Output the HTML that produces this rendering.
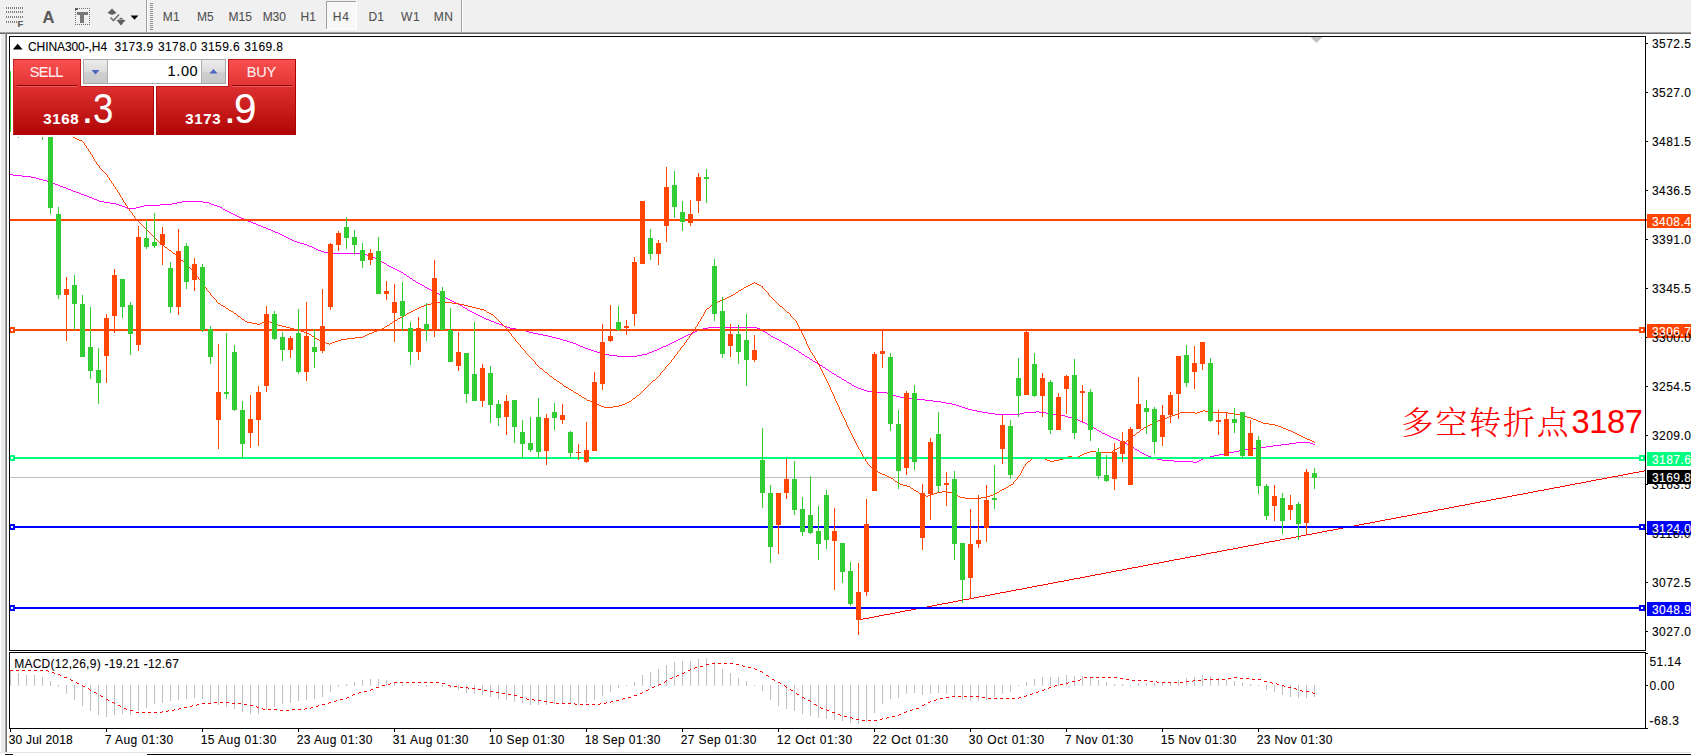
<!DOCTYPE html>
<html><head><meta charset="utf-8"><title>CHINA300-,H4</title>
<style>
html,body{margin:0;padding:0;background:#fff}
body{width:1691px;height:755px;overflow:hidden;position:relative;font-family:"Liberation Sans","Noto Sans CJK SC",sans-serif}
svg{position:absolute;left:0;top:0;display:block}
.t{position:absolute;white-space:pre;margin:0;padding:0;-webkit-text-stroke:0.1px currentColor}
#clip{position:absolute;left:0;top:0;width:1691px;height:755px;overflow:hidden}
</style></head><body><div id="clip">
<svg width="1691" height="755" viewBox="0 0 1691 755" shape-rendering="crispEdges">
<rect x="10" y="477" width="1635" height="1" fill="#c0c0c0"/>
<path d="M10 174.5h3M13 175.5h9M22 176.5h9M31 177.5h5M36 178.5h3M39 179.5h4M43 180.5h4M47 181.5h3M50 182.5h2M52 183.5h3M55 184.5h3M58 185.5h2M60 186.5h3M63 187.5h3M66 188.5h2M68 189.5h3M71 190.5h2M73 191.5h3M76 192.5h3M79 193.5h2M81 194.5h3M84 195.5h3M87 196.5h2M89 197.5h3M92 198.5h2M94 199.5h3M97 200.5h2M99 201.5h5M104 202.5h6M110 203.5h6M116 204.5h3M119 205.5h3M122 206.5h3M125 207.5h2M127 208.5h9M136 207.5h4M140 206.5h4M144 205.5h16M160 204.5h12M172 203.5h5M177 202.5h5M182 201.5h21M203 202.5h6M209 203.5h2M211 204.5h3M214 205.5h3M217 206.5h3M220 207.5h2M222 208.5h1M223 209.5h2M225 210.5h2M227 211.5h2M229 212.5h2M231 213.5h2M233 214.5h2M235 215.5h2M237 216.5h2M239 217.5h2M241 218.5h3M244 219.5h2M246 220.5h2M248 221.5h3M251 222.5h2M253 223.5h3M256 224.5h2M258 225.5h3M261 226.5h2M263 227.5h3M266 228.5h2M268 229.5h3M271 230.5h2M273 231.5h2M275 232.5h3M278 233.5h2M280 234.5h2M282 235.5h2M284 236.5h2M286 237.5h2M288 238.5h2M290 239.5h2M292 240.5h2M294 241.5h3M297 242.5h3M300 243.5h4M304 244.5h3M307 245.5h2M309 246.5h3M312 247.5h2M314 248.5h2M316 249.5h2M318 250.5h3M321 251.5h3M324 252.5h8M332 253.5h29M361 254.5h6M367 255.5h3M370 256.5h2M372 257.5h3M375 258.5h2M377 259.5h2M379 260.5h2M381 261.5h1M382 262.5h2M384 263.5h2M386 264.5h1M387 265.5h2M389 266.5h2M391 267.5h2M393 268.5h2M395 269.5h2M397 270.5h2M399 271.5h2M401 272.5h2M403 273.5h1M404 274.5h2M406 275.5h1M407 276.5h2M409 277.5h1M410 278.5h2M412 279.5h1M413 280.5h2M415 281.5h1M416 282.5h2M418 283.5h2M420 284.5h2M422 285.5h2M424 286.5h1M425 287.5h2M427 288.5h2M429 289.5h2M431 290.5h2M433 291.5h2M435 292.5h2M437 293.5h2M439 294.5h2M441 295.5h1M442 296.5h2M444 297.5h2M446 298.5h2M448 299.5h2M450 300.5h2M452 301.5h2M454 302.5h2M456 303.5h2M458 304.5h2M460 305.5h2M462 306.5h1M463 307.5h2M465 308.5h2M467 309.5h1M468 310.5h2M470 311.5h2M472 312.5h2M474 313.5h2M476 314.5h2M478 315.5h2M480 316.5h2M482 317.5h2M484 318.5h2M486 319.5h3M489 320.5h2M491 321.5h3M494 322.5h2M496 323.5h3M499 324.5h3M502 325.5h2M504 326.5h3M507 327.5h3M510 328.5h6M516 329.5h6M522 330.5h4M526 331.5h3M529 332.5h4M533 333.5h5M538 334.5h5M543 335.5h5M548 336.5h4M552 337.5h4M556 338.5h4M560 339.5h3M563 340.5h4M567 341.5h3M570 342.5h3M573 343.5h3M576 344.5h2M578 345.5h2M580 346.5h3M583 347.5h2M585 348.5h3M588 349.5h3M591 350.5h3M594 351.5h3M597 352.5h4M601 353.5h4M605 354.5h4M609 355.5h8M617 356.5h20M637 355.5h5M642 354.5h5M647 353.5h2M649 352.5h3M652 351.5h2M654 350.5h3M657 349.5h2M659 348.5h2M661 347.5h2M663 346.5h3M666 345.5h2M668 344.5h2M670 343.5h2M672 342.5h2M674 341.5h2M676 340.5h2M678 339.5h2M680 338.5h2M682 337.5h2M684 336.5h2M686 335.5h2M688 334.5h3M691 333.5h2M693 332.5h2M695 331.5h2M697 330.5h3M700 329.5h3M703 328.5h5M708 327.5h49M757 328.5h3M760 329.5h2M762 330.5h1M763 331.5h2M765 332.5h2M767 333.5h1M768 334.5h2M770 335.5h1M771 336.5h2M773 337.5h2M775 338.5h2M777 339.5h2M779 340.5h2M781 341.5h1M782 342.5h2M784 343.5h2M786 344.5h2M788 345.5h1M789 346.5h2M791 347.5h2M793 348.5h1M794 349.5h2M796 350.5h2M798 351.5h1M799 352.5h2M801 353.5h1M802 354.5h2M804 355.5h1M805 356.5h2M807 357.5h2M809 358.5h1M810 359.5h2M812 360.5h1M813 361.5h2M815 362.5h2M817 363.5h1M818 364.5h2M820 365.5h2M822 366.5h1M823 367.5h2M825 368.5h1M826 369.5h2M828 370.5h1M829 371.5h2M831 372.5h1M832 373.5h2M834 374.5h2M836 375.5h1M837 376.5h2M839 377.5h2M841 378.5h1M842 379.5h2M844 380.5h2M846 381.5h1M847 382.5h2M849 383.5h2M851 384.5h1M852 385.5h2M854 386.5h2M856 387.5h2M858 388.5h3M861 389.5h3M864 390.5h3M867 391.5h7M874 392.5h13M887 393.5h3M890 394.5h3M893 395.5h3M896 396.5h4M900 397.5h8M908 398.5h8M916 399.5h9M925 400.5h8M933 401.5h8M941 402.5h5M946 403.5h6M952 404.5h4M956 405.5h3M959 406.5h3M962 407.5h3M965 408.5h3M968 409.5h4M972 410.5h5M977 411.5h5M982 412.5h6M988 413.5h7M995 414.5h25M1020 413.5h4M1024 412.5h12M1036 411.5h3M1039 412.5h7M1046 413.5h7M1053 414.5h6M1059 415.5h6M1065 416.5h3M1068 417.5h4M1072 418.5h4M1076 419.5h2M1078 420.5h2M1080 421.5h2M1082 422.5h3M1085 423.5h2M1087 424.5h2M1089 425.5h2M1091 426.5h1M1092 427.5h2M1094 428.5h2M1096 429.5h1M1097 430.5h2M1099 431.5h2M1101 432.5h1M1102 433.5h3M1105 434.5h2M1107 435.5h2M1109 436.5h2M1111 437.5h2M1113 438.5h3M1116 439.5h2M1118 440.5h2M1120 441.5h2M1122 442.5h3M1125 443.5h2M1127 444.5h2M1129 445.5h1M1130 446.5h2M1132 447.5h2M1134 448.5h1M1135 449.5h2M1137 450.5h2M1139 451.5h1M1140 452.5h2M1142 453.5h2M1144 454.5h2M1146 455.5h2M1148 456.5h3M1151 457.5h3M1154 458.5h3M1157 459.5h5M1162 460.5h12M1174 461.5h19M1193 462.5h4M1197 461.5h2M1199 460.5h2M1201 459.5h2M1203 458.5h3M1206 457.5h4M1210 456.5h4M1214 455.5h5M1219 454.5h5M1224 453.5h5M1229 452.5h5M1234 451.5h5M1239 450.5h6M1245 449.5h7M1252 448.5h7M1259 447.5h7M1266 446.5h7M1273 445.5h8M1281 444.5h8M1289 443.5h7M1296 442.5h14M1310 443.5h3M1313 444.5h2" fill="none" stroke="#ff00ff" stroke-width="1"/>
<path d="M73 137.5h2M75 138.5h2M77 139.5h2M79 140.5h3M82 141.5h1M83 142.5h1M84.5 143v2M85 145.5h1M86.5 146v2M87 148.5h1M88.5 149v2M89 151.5h1M90.5 152v2M91 154.5h1M92.5 155v2M93.5 157v2M94.5 159v2M95 161.5h1M96.5 162v2M97 164.5h1M98 165.5h1M99.5 166v2M100 168.5h1M101 169.5h1M102 170.5h1M103 171.5h1M104 172.5h1M105 173.5h1M106 174.5h1M107.5 175v2M108 177.5h1M109.5 178v2M110 180.5h1M111.5 181v2M112 183.5h1M113.5 184v2M114 186.5h1M115.5 187v2M116 189.5h1M117.5 190v2M118 192.5h1M119.5 193v2M120.5 195v2M121 197.5h1M122.5 198v2M123.5 200v2M124 202.5h1M125.5 203v2M126 205.5h1M127.5 206v2M128 208.5h1M129.5 209v2M130 211.5h1M131 212.5h1M132.5 213v2M133 215.5h1M134.5 216v2M135 218.5h1M136 219.5h1M137 220.5h1M138 221.5h1M139 222.5h1M140 223.5h1M141 224.5h1M142 225.5h1M143 226.5h1M144 227.5h1M145 228.5h1M146 229.5h1M147 230.5h1M148 231.5h1M149 232.5h1M150 233.5h1M151 234.5h1M152 235.5h1M153 236.5h1M154 237.5h1M155 238.5h1M156 239.5h1M157 240.5h1M158 241.5h1M159 242.5h2M161 243.5h1M162 244.5h1M163 245.5h1M164 246.5h1M165 247.5h2M167 248.5h1M168 249.5h1M169 250.5h2M171 251.5h1M172 252.5h1M173 253.5h2M175 254.5h1M176 255.5h1M177 256.5h1M178 257.5h1M179 258.5h1M180 259.5h1M181 260.5h2M183 261.5h1M184 262.5h1M185 263.5h1M186 264.5h1M187 265.5h1M188 266.5h1M189 267.5h1M190 268.5h1M191 269.5h1M192.5 270v2M193 272.5h1M194 273.5h1M195 274.5h1M196 275.5h1M197 276.5h1M198.5 277v2M199 279.5h1M200 280.5h1M201.5 281v2M202 283.5h1M203.5 284v2M204 286.5h1M205 287.5h1M206.5 288v2M207 290.5h1M208 291.5h1M209 292.5h1M210.5 293v2M211 295.5h1M212 296.5h1M213 297.5h1M214 298.5h1M215 299.5h1M216.5 300v2M217 302.5h1M218 303.5h2M220 304.5h1M221 305.5h2M223 306.5h2M225 307.5h1M226 308.5h2M228 309.5h1M229 310.5h2M231 311.5h2M233 312.5h1M234 313.5h2M236 314.5h1M237 315.5h1M238 316.5h2M240 317.5h1M241 318.5h1M242 319.5h2M244 320.5h1M245 321.5h2M247 322.5h5M252 323.5h5M257 324.5h3M260 323.5h2M262 322.5h2M264 321.5h6M270 322.5h3M273 323.5h3M276 324.5h2M278 325.5h4M282 326.5h4M286 327.5h4M290 328.5h4M294 329.5h4M298 330.5h3M301 331.5h3M304 332.5h3M307 333.5h2M309 334.5h2M311 335.5h1M312 336.5h2M314 337.5h1M315 338.5h2M317 339.5h2M319 340.5h2M321 341.5h3M324 342.5h2M326 343.5h3M329 344.5h1M330 343.5h2M332 342.5h3M335 341.5h3M338 340.5h3M341 339.5h6M347 338.5h8M355 337.5h8M363 336.5h2M365 335.5h2M367 334.5h2M369 333.5h3M372 332.5h2M374 331.5h3M377 330.5h3M380 329.5h2M382 328.5h2M384 327.5h1M385 326.5h2M387 325.5h2M389 324.5h1M390 323.5h2M392 322.5h1M393 321.5h2M395 320.5h2M397 319.5h1M398 318.5h2M400 317.5h2M402 316.5h2M404 315.5h2M406 314.5h1M407 313.5h2M409 312.5h2M411 311.5h2M413 310.5h2M415 309.5h2M417 308.5h2M419 307.5h2M421 306.5h3M424 305.5h3M427 304.5h4M431 303.5h4M435 302.5h17M452 303.5h7M459 304.5h5M464 305.5h4M468 306.5h4M472 307.5h4M476 308.5h4M480 309.5h4M484 310.5h2M486 311.5h1M487 312.5h2M489 313.5h2M491 314.5h2M493 315.5h1M494 316.5h1M495 317.5h1M496 318.5h1M497 319.5h1M498 320.5h1M499 321.5h1M500 322.5h1M501 323.5h1M502 324.5h1M503 325.5h1M504 326.5h1M505 327.5h1M506 328.5h1M507.5 329v2M508 331.5h1M509 332.5h1M510 333.5h1M511.5 334v2M512 336.5h1M513 337.5h1M514 338.5h1M515.5 339v2M516 341.5h1M517 342.5h1M518 343.5h1M519 344.5h1M520.5 345v2M521 347.5h1M522 348.5h1M523 349.5h1M524 350.5h1M525.5 351v2M526 353.5h1M527 354.5h1M528 355.5h1M529 356.5h1M530 357.5h1M531 358.5h1M532 359.5h1M533 360.5h1M534 361.5h1M535.5 362v2M536 364.5h1M537 365.5h1M538 366.5h1M539 367.5h1M540 368.5h2M542 369.5h1M543 370.5h1M544 371.5h1M545 372.5h2M547 373.5h1M548 374.5h1M549 375.5h1M550 376.5h2M552 377.5h1M553 378.5h1M554 379.5h2M556 380.5h1M557 381.5h2M559 382.5h1M560 383.5h2M562 384.5h1M563 385.5h1M564 386.5h2M566 387.5h2M568 388.5h1M569 389.5h2M571 390.5h2M573 391.5h1M574 392.5h2M576 393.5h2M578 394.5h1M579 395.5h2M581 396.5h1M582 397.5h2M584 398.5h2M586 399.5h1M587 400.5h3M590 401.5h2M592 402.5h3M595 403.5h2M597 404.5h2M599 405.5h2M601 406.5h3M604 407.5h9M613 406.5h6M619 405.5h3M622 404.5h3M625 403.5h2M627 402.5h2M629 401.5h2M631 400.5h1M632 399.5h1M633 398.5h2M635 397.5h1M636 396.5h1M637 395.5h2M639 394.5h1M640 393.5h1M641 392.5h1M642 391.5h1M643 390.5h1M644 389.5h1M645 388.5h1M646 387.5h1M647 386.5h1M648 385.5h1M649 384.5h1M650 383.5h1M651 382.5h1M652 381.5h1M653 380.5h2M655 379.5h1M656 378.5h1M657 377.5h1M658 376.5h1M659 375.5h1M660.5 373v2M661 372.5h1M662 371.5h1M663 370.5h1M664 369.5h1M665.5 367v2M666 366.5h1M667 365.5h1M668 364.5h1M669 363.5h1M670 362.5h1M671.5 360v2M672 359.5h1M673 358.5h1M674.5 356v2M675 355.5h1M676 354.5h1M677.5 352v2M678 351.5h1M679 350.5h1M680.5 348v2M681 347.5h1M682 346.5h1M683 345.5h1M684.5 343v2M685 342.5h1M686.5 340v2M687 339.5h1M688 338.5h1M689.5 336v2M690 335.5h1M691.5 333v2M692 332.5h1M693 331.5h1M694.5 329v2M695.5 327v2M696 326.5h1M697.5 324v2M698.5 322v2M699 321.5h1M700.5 319v2M701.5 317v2M702 316.5h1M703.5 314v2M704.5 312v2M705.5 310v2M706 309.5h1M707 308.5h2M709 307.5h1M710 306.5h1M711 305.5h2M713 304.5h1M714 303.5h2M716 302.5h2M718 301.5h2M720 300.5h3M723 299.5h2M725 298.5h2M727 297.5h2M729 296.5h2M731 295.5h2M733 294.5h2M735 293.5h1M736 292.5h2M738 291.5h1M739 290.5h2M741 289.5h2M743 288.5h1M744 287.5h2M746 286.5h2M748 285.5h2M750 284.5h2M752 283.5h2M754 282.5h1M755 283.5h2M757 284.5h2M759 285.5h2M761 286.5h1M762.5 286v2M763 288.5h1M764 289.5h1M765 290.5h1M766 291.5h1M767 292.5h1M768.5 293v2M769 295.5h1M770 296.5h1M771 297.5h1M772 298.5h1M773 299.5h1M774 300.5h1M775 301.5h1M776 302.5h1M777 303.5h1M778 304.5h1M779 305.5h1M780 306.5h2M782 307.5h1M783 308.5h1M784 309.5h1M785 310.5h1M786 311.5h1M787 312.5h2M789 313.5h1M790.5 314v2M791 316.5h1M792 317.5h1M793 318.5h1M794 319.5h1M795 320.5h1M796.5 321v2M797.5 323v2M798.5 325v2M799.5 327v2M800.5 329v2M801.5 331v2M802.5 333v2M803.5 335v2M804.5 337v2M805.5 339v2M806.5 341v3M807.5 344v2M808.5 346v2M809.5 348v2M810.5 350v2M811 352.5h1M812.5 353v2M813 355.5h1M814.5 356v2M815.5 358v2M816 360.5h1M817.5 361v2M818.5 363v2M819.5 365v2M820.5 367v2M821.5 369v2M822.5 371v2M823.5 373v2M824.5 375v2M825.5 377v2M826.5 379v2M827.5 381v2M828.5 383v2M829.5 385v2M830.5 387v3M831.5 390v2M832.5 392v2M833.5 394v2M834.5 396v3M835.5 399v2M836.5 401v2M837.5 403v2M838.5 405v2M839.5 407v3M840.5 410v2M841.5 412v2M842.5 414v2M843.5 416v2M844.5 418v2M845.5 420v2M846.5 422v3M847.5 425v2M848.5 427v2M849.5 429v2M850.5 431v2M851.5 433v2M852.5 435v2M853.5 437v2M854.5 439v2M855.5 441v2M856.5 443v2M857.5 445v2M858.5 447v2M859 449.5h1M860.5 450v2M861.5 452v2M862.5 454v2M863.5 456v2M864 458.5h1M865.5 459v2M866 461.5h1M867.5 462v2M868 464.5h1M869 465.5h1M870 466.5h1M871 467.5h1M872 468.5h1M873 469.5h1M874 470.5h2M876 471.5h2M878 472.5h2M880 473.5h2M882 474.5h3M885 475.5h2M887 476.5h2M889 477.5h2M891 478.5h2M893 479.5h1M894 480.5h1M895 481.5h2M897 482.5h1M898 483.5h2M900 484.5h3M903 485.5h4M907 486.5h3M910 487.5h1M911 488.5h2M913 489.5h1M914 490.5h2M916 491.5h2M918 492.5h1M919 493.5h2M921 494.5h3M924 495.5h2M926 496.5h2M928 495.5h3M931 494.5h3M934 493.5h3M937 492.5h5M942 491.5h5M947 492.5h5M952 493.5h2M954 494.5h2M956 495.5h2M958 496.5h2M960 497.5h5M965 498.5h16M981 497.5h5M986 496.5h4M990 495.5h3M993 494.5h2M995 493.5h2M997 492.5h2M999 491.5h1M1000 490.5h2M1002 489.5h2M1004 488.5h2M1006 487.5h2M1008 486.5h1M1009 485.5h2M1011 484.5h2M1013.5 482v2M1014 481.5h1M1015 480.5h1M1016 479.5h1M1017.5 477v2M1018 476.5h1M1019 475.5h1M1020.5 473v2M1021.5 471v2M1022.5 469v2M1023.5 467v2M1024 466.5h1M1025.5 464v2M1026 463.5h1M1027 462.5h1M1028 461.5h2M1030 460.5h1M1031 459.5h1M1032 458.5h1M1033 457.5h6M1039 458.5h6M1045 459.5h2M1047 460.5h3M1050 461.5h4M1054 460.5h5M1059 459.5h4M1063 458.5h2M1065 457.5h3M1068 456.5h4M1072 457.5h6M1078 456.5h2M1080 455.5h2M1082 454.5h2M1084 453.5h3M1087 452.5h3M1090 451.5h6M1096 452.5h16M1112 451.5h1M1113 450.5h2M1115 449.5h2M1117 448.5h2M1119 447.5h1M1120 446.5h1M1121 445.5h2M1123 444.5h1M1124 443.5h1M1125 442.5h1M1126 441.5h1M1127 440.5h1M1128 439.5h2M1130 438.5h1M1131 437.5h1M1132 436.5h1M1133 435.5h2M1135 434.5h1M1136 433.5h1M1137 432.5h2M1139 431.5h1M1140 430.5h1M1141 429.5h2M1143 428.5h1M1144 427.5h2M1146 426.5h2M1148 425.5h2M1150 424.5h2M1152 423.5h2M1154 422.5h2M1156 421.5h2M1158 420.5h3M1161 419.5h3M1164 418.5h3M1167 417.5h2M1169 416.5h3M1172 415.5h3M1175 414.5h3M1178 413.5h2M1180 412.5h15M1195 413.5h2M1197 412.5h3M1200 411.5h3M1203 410.5h2M1205 411.5h5M1210 412.5h18M1228 413.5h7M1235 414.5h6M1241 415.5h3M1244 416.5h3M1247 417.5h4M1251 418.5h2M1253 419.5h3M1256 420.5h2M1258 421.5h3M1261 422.5h2M1263 423.5h6M1269 424.5h6M1275 425.5h3M1278 426.5h3M1281 427.5h2M1283 428.5h3M1286 429.5h2M1288 430.5h3M1291 431.5h2M1293 432.5h2M1295 433.5h2M1297 434.5h2M1299 435.5h2M1301 436.5h2M1303 437.5h2M1305 438.5h2M1307 439.5h3M1310 440.5h2M1312 441.5h2M1314 442.5h1" fill="none" stroke="#ff4500" stroke-width="1"/>
<path d="M858 619.5h5M863 618.5h6M869 617.5h5M874 616.5h5M879 615.5h5M884 614.5h6M890 613.5h5M895 612.5h5M900 611.5h5M905 610.5h6M911 609.5h5M916 608.5h5M921 607.5h6M927 606.5h5M932 605.5h5M937 604.5h5M942 603.5h6M948 602.5h5M953 601.5h5M958 600.5h5M963 599.5h6M969 598.5h5M974 597.5h5M979 596.5h6M985 595.5h5M990 594.5h5M995 593.5h5M1000 592.5h6M1006 591.5h5M1011 590.5h5M1016 589.5h6M1022 588.5h5M1027 587.5h5M1032 586.5h5M1037 585.5h6M1043 584.5h5M1048 583.5h5M1053 582.5h5M1058 581.5h6M1064 580.5h5M1069 579.5h5M1074 578.5h6M1080 577.5h5M1085 576.5h5M1090 575.5h5M1095 574.5h6M1101 573.5h5M1106 572.5h5M1111 571.5h5M1116 570.5h6M1122 569.5h5M1127 568.5h5M1132 567.5h6M1138 566.5h5M1143 565.5h5M1148 564.5h5M1153 563.5h6M1159 562.5h5M1164 561.5h5M1169 560.5h5M1174 559.5h6M1180 558.5h5M1185 557.5h5M1190 556.5h6M1196 555.5h5M1201 554.5h5M1206 553.5h5M1211 552.5h6M1217 551.5h5M1222 550.5h5M1227 549.5h6M1233 548.5h5M1238 547.5h5M1243 546.5h5M1248 545.5h6M1254 544.5h5M1259 543.5h5M1264 542.5h5M1269 541.5h6M1275 540.5h5M1280 539.5h5M1285 538.5h6M1291 537.5h5M1296 536.5h5M1301 535.5h5M1306 534.5h6M1312 533.5h5M1317 532.5h5M1322 531.5h5M1327 530.5h6M1333 529.5h5M1338 528.5h5M1343 527.5h6M1349 526.5h5M1354 525.5h5M1359 524.5h5M1364 523.5h6M1370 522.5h5M1375 521.5h5M1380 520.5h5M1385 519.5h6M1391 518.5h5M1396 517.5h5M1401 516.5h6M1407 515.5h5M1412 514.5h5M1417 513.5h5M1422 512.5h6M1428 511.5h5M1433 510.5h5M1438 509.5h6M1444 508.5h5M1449 507.5h5M1454 506.5h5M1459 505.5h6M1465 504.5h5M1470 503.5h5M1475 502.5h5M1480 501.5h6M1486 500.5h5M1491 499.5h5M1496 498.5h6M1502 497.5h5M1507 496.5h5M1512 495.5h5M1517 494.5h6M1523 493.5h5M1528 492.5h5M1533 491.5h5M1538 490.5h6M1544 489.5h5M1549 488.5h5M1554 487.5h6M1560 486.5h5M1565 485.5h5M1570 484.5h5M1575 483.5h6M1581 482.5h5M1586 481.5h5M1591 480.5h5M1596 479.5h6M1602 478.5h5M1607 477.5h5M1612 476.5h6M1618 475.5h5M1623 474.5h5M1628 473.5h5M1633 472.5h6M1639 471.5h5M1644 470.5h1" fill="none" stroke="#ff0000" stroke-width="1"/>
<rect x="10" y="219" width="1637" height="2" fill="#ff4500"/>
<rect x="10" y="329" width="1635" height="2" fill="#ff4500"/>
<rect x="9" y="327" width="6" height="6" fill="#ff4500"/>
<rect x="11" y="329" width="2" height="2" fill="#fff"/>
<rect x="1639" y="327" width="6" height="6" fill="#ff4500"/>
<rect x="1641" y="329" width="2" height="2" fill="#fff"/>
<rect x="10" y="457" width="1635" height="2" fill="#00ff7f"/>
<rect x="9" y="455" width="6" height="6" fill="#00ff7f"/>
<rect x="11" y="457" width="2" height="2" fill="#fff"/>
<rect x="1639" y="455" width="6" height="6" fill="#00ff7f"/>
<rect x="1641" y="457" width="2" height="2" fill="#fff"/>
<rect x="10" y="526" width="1635" height="2" fill="#0000ff"/>
<rect x="9" y="524" width="6" height="6" fill="#0000ff"/>
<rect x="11" y="526" width="2" height="2" fill="#fff"/>
<rect x="1639" y="524" width="6" height="6" fill="#0000ff"/>
<rect x="1641" y="526" width="2" height="2" fill="#fff"/>
<rect x="10" y="607" width="1635" height="2" fill="#0000ff"/>
<rect x="9" y="605" width="6" height="6" fill="#0000ff"/>
<rect x="11" y="607" width="2" height="2" fill="#fff"/>
<rect x="1639" y="605" width="6" height="6" fill="#0000ff"/>
<rect x="1641" y="607" width="2" height="2" fill="#fff"/>
<rect x="50" y="100" width="1" height="114" fill="#32cd32"/>
<rect x="48" y="100" width="5" height="108" fill="#32cd32"/>
<rect x="58" y="207" width="1" height="92" fill="#32cd32"/>
<rect x="56" y="214" width="5" height="81" fill="#32cd32"/>
<rect x="66" y="277" width="1" height="64" fill="#ff4500"/>
<rect x="64" y="289" width="5" height="6" fill="#ff4500"/>
<rect x="74" y="275" width="1" height="55" fill="#32cd32"/>
<rect x="72" y="285" width="5" height="19" fill="#32cd32"/>
<rect x="82" y="295" width="1" height="62" fill="#32cd32"/>
<rect x="80" y="304" width="5" height="53" fill="#32cd32"/>
<rect x="90" y="307" width="1" height="72" fill="#32cd32"/>
<rect x="88" y="347" width="5" height="24" fill="#32cd32"/>
<rect x="98" y="348" width="1" height="56" fill="#32cd32"/>
<rect x="96" y="370" width="5" height="13" fill="#32cd32"/>
<rect x="106" y="314" width="1" height="69" fill="#ff4500"/>
<rect x="104" y="318" width="5" height="38" fill="#ff4500"/>
<rect x="114" y="269" width="1" height="64" fill="#ff4500"/>
<rect x="112" y="275" width="5" height="41" fill="#ff4500"/>
<rect x="122" y="279" width="1" height="39" fill="#32cd32"/>
<rect x="120" y="279" width="5" height="28" fill="#32cd32"/>
<rect x="130" y="302" width="1" height="53" fill="#32cd32"/>
<rect x="128" y="305" width="5" height="29" fill="#32cd32"/>
<rect x="138" y="226" width="1" height="125" fill="#ff4500"/>
<rect x="136" y="237" width="5" height="108" fill="#ff4500"/>
<rect x="146" y="220" width="1" height="29" fill="#32cd32"/>
<rect x="144" y="238" width="5" height="9" fill="#32cd32"/>
<rect x="154" y="213" width="1" height="35" fill="#32cd32"/>
<rect x="152" y="242" width="5" height="4" fill="#32cd32"/>
<rect x="162" y="227" width="1" height="38" fill="#ff4500"/>
<rect x="160" y="234" width="5" height="11" fill="#ff4500"/>
<rect x="170" y="262" width="1" height="51" fill="#32cd32"/>
<rect x="168" y="268" width="5" height="39" fill="#32cd32"/>
<rect x="178" y="229" width="1" height="86" fill="#ff4500"/>
<rect x="176" y="251" width="5" height="56" fill="#ff4500"/>
<rect x="186" y="243" width="1" height="46" fill="#32cd32"/>
<rect x="184" y="246" width="5" height="36" fill="#32cd32"/>
<rect x="194" y="258" width="1" height="33" fill="#ff4500"/>
<rect x="192" y="264" width="5" height="16" fill="#ff4500"/>
<rect x="202" y="264" width="1" height="68" fill="#32cd32"/>
<rect x="200" y="267" width="5" height="63" fill="#32cd32"/>
<rect x="210" y="326" width="1" height="38" fill="#32cd32"/>
<rect x="208" y="329" width="5" height="28" fill="#32cd32"/>
<rect x="218" y="344" width="1" height="105" fill="#ff4500"/>
<rect x="216" y="392" width="5" height="28" fill="#ff4500"/>
<rect x="226" y="333" width="1" height="66" fill="#32cd32"/>
<rect x="224" y="392" width="5" height="2" fill="#32cd32"/>
<rect x="234" y="345" width="1" height="66" fill="#32cd32"/>
<rect x="232" y="352" width="5" height="58" fill="#32cd32"/>
<rect x="242" y="401" width="1" height="57" fill="#32cd32"/>
<rect x="240" y="410" width="5" height="34" fill="#32cd32"/>
<rect x="250" y="395" width="1" height="53" fill="#ff4500"/>
<rect x="248" y="419" width="5" height="14" fill="#ff4500"/>
<rect x="258" y="386" width="1" height="60" fill="#ff4500"/>
<rect x="256" y="392" width="5" height="28" fill="#ff4500"/>
<rect x="266" y="306" width="1" height="86" fill="#ff4500"/>
<rect x="264" y="314" width="5" height="72" fill="#ff4500"/>
<rect x="274" y="311" width="1" height="29" fill="#32cd32"/>
<rect x="272" y="314" width="5" height="25" fill="#32cd32"/>
<rect x="282" y="332" width="1" height="29" fill="#32cd32"/>
<rect x="280" y="337" width="5" height="13" fill="#32cd32"/>
<rect x="290" y="336" width="1" height="22" fill="#ff4500"/>
<rect x="288" y="338" width="5" height="12" fill="#ff4500"/>
<rect x="298" y="309" width="1" height="65" fill="#32cd32"/>
<rect x="296" y="333" width="5" height="39" fill="#32cd32"/>
<rect x="306" y="302" width="1" height="79" fill="#ff4500"/>
<rect x="304" y="336" width="5" height="36" fill="#ff4500"/>
<rect x="314" y="329" width="1" height="39" fill="#32cd32"/>
<rect x="312" y="347" width="5" height="5" fill="#32cd32"/>
<rect x="322" y="289" width="1" height="64" fill="#ff4500"/>
<rect x="320" y="326" width="5" height="25" fill="#ff4500"/>
<rect x="330" y="243" width="1" height="67" fill="#ff4500"/>
<rect x="328" y="244" width="5" height="63" fill="#ff4500"/>
<rect x="338" y="231" width="1" height="20" fill="#ff4500"/>
<rect x="336" y="233" width="5" height="12" fill="#ff4500"/>
<rect x="346" y="217" width="1" height="32" fill="#32cd32"/>
<rect x="344" y="227" width="5" height="11" fill="#32cd32"/>
<rect x="354" y="230" width="1" height="24" fill="#32cd32"/>
<rect x="352" y="237" width="5" height="8" fill="#32cd32"/>
<rect x="362" y="243" width="1" height="25" fill="#32cd32"/>
<rect x="360" y="250" width="5" height="11" fill="#32cd32"/>
<rect x="370" y="249" width="1" height="16" fill="#ff4500"/>
<rect x="368" y="253" width="5" height="7" fill="#ff4500"/>
<rect x="378" y="237" width="1" height="57" fill="#32cd32"/>
<rect x="376" y="251" width="5" height="43" fill="#32cd32"/>
<rect x="386" y="281" width="1" height="19" fill="#ff4500"/>
<rect x="384" y="291" width="5" height="3" fill="#ff4500"/>
<rect x="394" y="284" width="1" height="58" fill="#ff4500"/>
<rect x="392" y="302" width="5" height="11" fill="#ff4500"/>
<rect x="402" y="282" width="1" height="49" fill="#32cd32"/>
<rect x="400" y="301" width="5" height="15" fill="#32cd32"/>
<rect x="410" y="322" width="1" height="43" fill="#32cd32"/>
<rect x="408" y="328" width="5" height="24" fill="#32cd32"/>
<rect x="418" y="317" width="1" height="43" fill="#ff4500"/>
<rect x="416" y="328" width="5" height="24" fill="#ff4500"/>
<rect x="426" y="303" width="1" height="38" fill="#32cd32"/>
<rect x="424" y="324" width="5" height="6" fill="#32cd32"/>
<rect x="434" y="260" width="1" height="77" fill="#ff4500"/>
<rect x="432" y="278" width="5" height="52" fill="#ff4500"/>
<rect x="442" y="287" width="1" height="43" fill="#32cd32"/>
<rect x="440" y="291" width="5" height="39" fill="#32cd32"/>
<rect x="450" y="308" width="1" height="54" fill="#32cd32"/>
<rect x="448" y="330" width="5" height="32" fill="#32cd32"/>
<rect x="458" y="332" width="1" height="39" fill="#ff4500"/>
<rect x="456" y="352" width="5" height="14" fill="#ff4500"/>
<rect x="466" y="353" width="1" height="50" fill="#32cd32"/>
<rect x="464" y="353" width="5" height="41" fill="#32cd32"/>
<rect x="474" y="322" width="1" height="79" fill="#32cd32"/>
<rect x="472" y="374" width="5" height="27" fill="#32cd32"/>
<rect x="482" y="364" width="1" height="43" fill="#ff4500"/>
<rect x="480" y="368" width="5" height="33" fill="#ff4500"/>
<rect x="490" y="366" width="1" height="57" fill="#32cd32"/>
<rect x="488" y="373" width="5" height="32" fill="#32cd32"/>
<rect x="498" y="400" width="1" height="26" fill="#32cd32"/>
<rect x="496" y="404" width="5" height="14" fill="#32cd32"/>
<rect x="506" y="395" width="1" height="40" fill="#ff4500"/>
<rect x="504" y="401" width="5" height="16" fill="#ff4500"/>
<rect x="514" y="400" width="1" height="43" fill="#32cd32"/>
<rect x="512" y="400" width="5" height="27" fill="#32cd32"/>
<rect x="522" y="420" width="1" height="38" fill="#32cd32"/>
<rect x="520" y="432" width="5" height="12" fill="#32cd32"/>
<rect x="530" y="417" width="1" height="35" fill="#32cd32"/>
<rect x="528" y="443" width="5" height="7" fill="#32cd32"/>
<rect x="538" y="398" width="1" height="60" fill="#32cd32"/>
<rect x="536" y="417" width="5" height="35" fill="#32cd32"/>
<rect x="546" y="414" width="1" height="51" fill="#ff4500"/>
<rect x="544" y="418" width="5" height="33" fill="#ff4500"/>
<rect x="554" y="403" width="1" height="27" fill="#32cd32"/>
<rect x="552" y="412" width="5" height="6" fill="#32cd32"/>
<rect x="562" y="404" width="1" height="20" fill="#ff4500"/>
<rect x="560" y="415" width="5" height="5" fill="#ff4500"/>
<rect x="570" y="431" width="1" height="27" fill="#32cd32"/>
<rect x="568" y="432" width="5" height="21" fill="#32cd32"/>
<rect x="578" y="444" width="1" height="16" fill="#ff4500"/>
<rect x="576" y="452" width="5" height="1" fill="#ff4500"/>
<rect x="586" y="422" width="1" height="41" fill="#ff4500"/>
<rect x="584" y="450" width="5" height="12" fill="#ff4500"/>
<rect x="594" y="372" width="1" height="79" fill="#ff4500"/>
<rect x="592" y="382" width="5" height="69" fill="#ff4500"/>
<rect x="602" y="324" width="1" height="66" fill="#ff4500"/>
<rect x="600" y="342" width="5" height="42" fill="#ff4500"/>
<rect x="610" y="305" width="1" height="37" fill="#ff4500"/>
<rect x="608" y="336" width="5" height="5" fill="#ff4500"/>
<rect x="618" y="306" width="1" height="25" fill="#32cd32"/>
<rect x="616" y="322" width="5" height="8" fill="#32cd32"/>
<rect x="626" y="320" width="1" height="15" fill="#ff4500"/>
<rect x="624" y="326" width="5" height="2" fill="#ff4500"/>
<rect x="634" y="257" width="1" height="69" fill="#ff4500"/>
<rect x="632" y="262" width="5" height="52" fill="#ff4500"/>
<rect x="642" y="201" width="1" height="63" fill="#ff4500"/>
<rect x="640" y="201" width="5" height="63" fill="#ff4500"/>
<rect x="650" y="229" width="1" height="31" fill="#32cd32"/>
<rect x="648" y="238" width="5" height="16" fill="#32cd32"/>
<rect x="658" y="240" width="1" height="25" fill="#ff4500"/>
<rect x="656" y="243" width="5" height="11" fill="#ff4500"/>
<rect x="666" y="167" width="1" height="75" fill="#ff4500"/>
<rect x="664" y="187" width="5" height="39" fill="#ff4500"/>
<rect x="674" y="171" width="1" height="47" fill="#32cd32"/>
<rect x="672" y="185" width="5" height="22" fill="#32cd32"/>
<rect x="682" y="201" width="1" height="30" fill="#32cd32"/>
<rect x="680" y="212" width="5" height="10" fill="#32cd32"/>
<rect x="690" y="200" width="1" height="26" fill="#ff4500"/>
<rect x="688" y="214" width="5" height="9" fill="#ff4500"/>
<rect x="698" y="173" width="1" height="40" fill="#ff4500"/>
<rect x="696" y="177" width="5" height="24" fill="#ff4500"/>
<rect x="706" y="169" width="1" height="34" fill="#32cd32"/>
<rect x="704" y="177" width="5" height="2" fill="#32cd32"/>
<rect x="714" y="259" width="1" height="62" fill="#32cd32"/>
<rect x="712" y="266" width="5" height="48" fill="#32cd32"/>
<rect x="722" y="297" width="1" height="61" fill="#32cd32"/>
<rect x="720" y="311" width="5" height="43" fill="#32cd32"/>
<rect x="730" y="324" width="1" height="33" fill="#ff4500"/>
<rect x="728" y="334" width="5" height="12" fill="#ff4500"/>
<rect x="738" y="325" width="1" height="39" fill="#32cd32"/>
<rect x="736" y="334" width="5" height="18" fill="#32cd32"/>
<rect x="746" y="314" width="1" height="72" fill="#32cd32"/>
<rect x="744" y="340" width="5" height="20" fill="#32cd32"/>
<rect x="754" y="335" width="1" height="27" fill="#ff4500"/>
<rect x="752" y="350" width="5" height="10" fill="#ff4500"/>
<rect x="762" y="428" width="1" height="80" fill="#32cd32"/>
<rect x="760" y="460" width="5" height="33" fill="#32cd32"/>
<rect x="770" y="485" width="1" height="78" fill="#32cd32"/>
<rect x="768" y="493" width="5" height="54" fill="#32cd32"/>
<rect x="778" y="493" width="1" height="61" fill="#ff4500"/>
<rect x="776" y="493" width="5" height="32" fill="#ff4500"/>
<rect x="786" y="459" width="1" height="40" fill="#ff4500"/>
<rect x="784" y="479" width="5" height="14" fill="#ff4500"/>
<rect x="794" y="461" width="1" height="54" fill="#32cd32"/>
<rect x="792" y="479" width="5" height="31" fill="#32cd32"/>
<rect x="802" y="497" width="1" height="39" fill="#32cd32"/>
<rect x="800" y="509" width="5" height="23" fill="#32cd32"/>
<rect x="810" y="476" width="1" height="58" fill="#32cd32"/>
<rect x="808" y="515" width="5" height="18" fill="#32cd32"/>
<rect x="818" y="506" width="1" height="54" fill="#32cd32"/>
<rect x="816" y="531" width="5" height="13" fill="#32cd32"/>
<rect x="826" y="490" width="1" height="59" fill="#32cd32"/>
<rect x="824" y="495" width="5" height="45" fill="#32cd32"/>
<rect x="834" y="508" width="1" height="82" fill="#ff4500"/>
<rect x="832" y="531" width="5" height="10" fill="#ff4500"/>
<rect x="842" y="543" width="1" height="40" fill="#32cd32"/>
<rect x="840" y="543" width="5" height="29" fill="#32cd32"/>
<rect x="850" y="562" width="1" height="44" fill="#32cd32"/>
<rect x="848" y="571" width="5" height="33" fill="#32cd32"/>
<rect x="858" y="563" width="1" height="72" fill="#ff4500"/>
<rect x="856" y="592" width="5" height="28" fill="#ff4500"/>
<rect x="866" y="499" width="1" height="97" fill="#ff4500"/>
<rect x="864" y="524" width="5" height="68" fill="#ff4500"/>
<rect x="874" y="352" width="1" height="139" fill="#ff4500"/>
<rect x="872" y="354" width="5" height="137" fill="#ff4500"/>
<rect x="882" y="331" width="1" height="37" fill="#ff4500"/>
<rect x="880" y="351" width="5" height="3" fill="#ff4500"/>
<rect x="890" y="353" width="1" height="78" fill="#32cd32"/>
<rect x="888" y="357" width="5" height="67" fill="#32cd32"/>
<rect x="898" y="410" width="1" height="79" fill="#32cd32"/>
<rect x="896" y="424" width="5" height="47" fill="#32cd32"/>
<rect x="906" y="391" width="1" height="84" fill="#ff4500"/>
<rect x="904" y="393" width="5" height="75" fill="#ff4500"/>
<rect x="914" y="385" width="1" height="85" fill="#32cd32"/>
<rect x="912" y="393" width="5" height="69" fill="#32cd32"/>
<rect x="922" y="484" width="1" height="66" fill="#ff4500"/>
<rect x="920" y="493" width="5" height="45" fill="#ff4500"/>
<rect x="930" y="438" width="1" height="82" fill="#ff4500"/>
<rect x="928" y="442" width="5" height="52" fill="#ff4500"/>
<rect x="938" y="412" width="1" height="80" fill="#32cd32"/>
<rect x="936" y="434" width="5" height="52" fill="#32cd32"/>
<rect x="946" y="472" width="1" height="34" fill="#ff4500"/>
<rect x="944" y="483" width="5" height="2" fill="#ff4500"/>
<rect x="954" y="471" width="1" height="89" fill="#32cd32"/>
<rect x="952" y="479" width="5" height="65" fill="#32cd32"/>
<rect x="962" y="543" width="1" height="60" fill="#32cd32"/>
<rect x="960" y="543" width="5" height="37" fill="#32cd32"/>
<rect x="970" y="509" width="1" height="90" fill="#ff4500"/>
<rect x="968" y="544" width="5" height="34" fill="#ff4500"/>
<rect x="978" y="495" width="1" height="53" fill="#ff4500"/>
<rect x="976" y="540" width="5" height="4" fill="#ff4500"/>
<rect x="986" y="485" width="1" height="57" fill="#ff4500"/>
<rect x="984" y="500" width="5" height="28" fill="#ff4500"/>
<rect x="994" y="465" width="1" height="44" fill="#32cd32"/>
<rect x="992" y="498" width="5" height="2" fill="#32cd32"/>
<rect x="1002" y="415" width="1" height="49" fill="#ff4500"/>
<rect x="1000" y="425" width="5" height="24" fill="#ff4500"/>
<rect x="1010" y="420" width="1" height="59" fill="#32cd32"/>
<rect x="1008" y="426" width="5" height="49" fill="#32cd32"/>
<rect x="1018" y="358" width="1" height="59" fill="#32cd32"/>
<rect x="1016" y="378" width="5" height="18" fill="#32cd32"/>
<rect x="1026" y="331" width="1" height="64" fill="#ff4500"/>
<rect x="1024" y="332" width="5" height="63" fill="#ff4500"/>
<rect x="1034" y="353" width="1" height="44" fill="#32cd32"/>
<rect x="1032" y="364" width="5" height="32" fill="#32cd32"/>
<rect x="1042" y="373" width="1" height="44" fill="#ff4500"/>
<rect x="1040" y="378" width="5" height="18" fill="#ff4500"/>
<rect x="1050" y="380" width="1" height="54" fill="#32cd32"/>
<rect x="1048" y="382" width="5" height="48" fill="#32cd32"/>
<rect x="1058" y="393" width="1" height="37" fill="#ff4500"/>
<rect x="1056" y="397" width="5" height="33" fill="#ff4500"/>
<rect x="1066" y="375" width="1" height="39" fill="#ff4500"/>
<rect x="1064" y="376" width="5" height="13" fill="#ff4500"/>
<rect x="1074" y="359" width="1" height="80" fill="#32cd32"/>
<rect x="1072" y="375" width="5" height="58" fill="#32cd32"/>
<rect x="1082" y="385" width="1" height="37" fill="#ff4500"/>
<rect x="1080" y="391" width="5" height="2" fill="#ff4500"/>
<rect x="1090" y="389" width="1" height="52" fill="#32cd32"/>
<rect x="1088" y="392" width="5" height="38" fill="#32cd32"/>
<rect x="1098" y="448" width="1" height="31" fill="#32cd32"/>
<rect x="1096" y="452" width="5" height="24" fill="#32cd32"/>
<rect x="1106" y="455" width="1" height="27" fill="#32cd32"/>
<rect x="1104" y="475" width="5" height="6" fill="#32cd32"/>
<rect x="1114" y="443" width="1" height="47" fill="#ff4500"/>
<rect x="1112" y="452" width="5" height="27" fill="#ff4500"/>
<rect x="1122" y="432" width="1" height="30" fill="#ff4500"/>
<rect x="1120" y="441" width="5" height="13" fill="#ff4500"/>
<rect x="1130" y="427" width="1" height="58" fill="#ff4500"/>
<rect x="1128" y="429" width="5" height="56" fill="#ff4500"/>
<rect x="1138" y="377" width="1" height="52" fill="#ff4500"/>
<rect x="1136" y="404" width="5" height="25" fill="#ff4500"/>
<rect x="1146" y="400" width="1" height="34" fill="#32cd32"/>
<rect x="1144" y="408" width="5" height="4" fill="#32cd32"/>
<rect x="1154" y="407" width="1" height="47" fill="#32cd32"/>
<rect x="1152" y="409" width="5" height="33" fill="#32cd32"/>
<rect x="1162" y="405" width="1" height="41" fill="#ff4500"/>
<rect x="1160" y="415" width="5" height="22" fill="#ff4500"/>
<rect x="1170" y="392" width="1" height="31" fill="#ff4500"/>
<rect x="1168" y="395" width="5" height="20" fill="#ff4500"/>
<rect x="1178" y="356" width="1" height="63" fill="#ff4500"/>
<rect x="1176" y="356" width="5" height="38" fill="#ff4500"/>
<rect x="1186" y="345" width="1" height="42" fill="#32cd32"/>
<rect x="1184" y="355" width="5" height="28" fill="#32cd32"/>
<rect x="1194" y="346" width="1" height="43" fill="#ff4500"/>
<rect x="1192" y="363" width="5" height="9" fill="#ff4500"/>
<rect x="1202" y="342" width="1" height="28" fill="#ff4500"/>
<rect x="1200" y="342" width="5" height="22" fill="#ff4500"/>
<rect x="1210" y="358" width="1" height="64" fill="#32cd32"/>
<rect x="1208" y="363" width="5" height="58" fill="#32cd32"/>
<rect x="1218" y="410" width="1" height="25" fill="#ff4500"/>
<rect x="1216" y="420" width="5" height="2" fill="#ff4500"/>
<rect x="1226" y="412" width="1" height="44" fill="#ff4500"/>
<rect x="1224" y="419" width="5" height="37" fill="#ff4500"/>
<rect x="1234" y="408" width="1" height="25" fill="#32cd32"/>
<rect x="1232" y="419" width="5" height="4" fill="#32cd32"/>
<rect x="1242" y="412" width="1" height="46" fill="#32cd32"/>
<rect x="1240" y="412" width="5" height="44" fill="#32cd32"/>
<rect x="1250" y="420" width="1" height="36" fill="#ff4500"/>
<rect x="1248" y="433" width="5" height="23" fill="#ff4500"/>
<rect x="1258" y="436" width="1" height="58" fill="#32cd32"/>
<rect x="1256" y="440" width="5" height="46" fill="#32cd32"/>
<rect x="1266" y="484" width="1" height="36" fill="#32cd32"/>
<rect x="1264" y="486" width="5" height="30" fill="#32cd32"/>
<rect x="1274" y="485" width="1" height="36" fill="#ff4500"/>
<rect x="1272" y="496" width="5" height="10" fill="#ff4500"/>
<rect x="1282" y="493" width="1" height="41" fill="#32cd32"/>
<rect x="1280" y="498" width="5" height="23" fill="#32cd32"/>
<rect x="1290" y="495" width="1" height="25" fill="#ff4500"/>
<rect x="1288" y="505" width="5" height="5" fill="#ff4500"/>
<rect x="1298" y="502" width="1" height="38" fill="#32cd32"/>
<rect x="1296" y="504" width="5" height="20" fill="#32cd32"/>
<rect x="1306" y="469" width="1" height="65" fill="#ff4500"/>
<rect x="1304" y="472" width="5" height="51" fill="#ff4500"/>
<rect x="1314" y="468" width="1" height="21" fill="#32cd32"/>
<rect x="1312" y="473" width="5" height="5" fill="#32cd32"/>
<rect x="10" y="71" width="1" height="61" fill="#32cd32"/>
<rect x="18" y="100" width="1" height="38" fill="#32cd32"/>
<rect x="42" y="100" width="1" height="40" fill="#32cd32"/>
<rect x="11" y="37" width="288" height="100" fill="#fff"/>
<defs>
<linearGradient id="gt" x1="0" y1="0" x2="0" y2="1"><stop offset="0" stop-color="#fa5050"/><stop offset="1" stop-color="#e03434"/></linearGradient>
<linearGradient id="gb" x1="0" y1="0" x2="0" y2="1"><stop offset="0" stop-color="#de3030"/><stop offset="1" stop-color="#b00505"/></linearGradient>
<linearGradient id="gg" x1="0" y1="0" x2="0" y2="1"><stop offset="0" stop-color="#ececec"/><stop offset="0.5" stop-color="#dcdcdc"/><stop offset="0.55" stop-color="#cfcfcf"/><stop offset="1" stop-color="#c8c8c8"/></linearGradient>
</defs>
<rect x="13" y="59" width="68" height="28" fill="url(#gt)"/>
<rect x="13" y="86" width="141" height="49" fill="url(#gb)"/>
<rect x="228" y="59" width="68" height="28" fill="url(#gt)"/>
<rect x="156" y="86" width="140" height="49" fill="url(#gb)"/>
<rect x="13" y="59" width="68" height="1" fill="#c01818"/>
<rect x="13" y="59" width="1" height="76" fill="#c82020"/>
<rect x="80" y="59" width="1" height="27" fill="#c01818"/>
<rect x="80" y="86" width="74" height="1" fill="#c01818"/>
<rect x="153" y="86" width="1" height="49" fill="#a80404"/>
<rect x="13" y="134" width="141" height="1" fill="#ac0404"/>
<rect x="228" y="59" width="68" height="1" fill="#c01818"/>
<rect x="228" y="59" width="1" height="27" fill="#c01818"/>
<rect x="156" y="86" width="72" height="1" fill="#c01818"/>
<rect x="156" y="86" width="1" height="49" fill="#b81010"/>
<rect x="295" y="59" width="1" height="76" fill="#a80404"/>
<rect x="156" y="134" width="140" height="1" fill="#ac0404"/>
<rect x="17" y="85" width="60" height="1" fill="#8c0000"/>
<rect x="17" y="86" width="60" height="1" fill="#f06060"/>
<rect x="232" y="85" width="60" height="1" fill="#8c0000"/>
<rect x="232" y="86" width="60" height="1" fill="#f06060"/>
<rect x="83" y="59" width="143" height="25" fill="#a8a8a8"/>
<rect x="84" y="60" width="141" height="23" fill="#fff"/>
<rect x="84" y="60" width="23" height="23" fill="url(#gg)"/>
<rect x="107" y="60" width="1" height="23" fill="#b0b0b0"/>
<rect x="202" y="60" width="23" height="23" fill="url(#gg)"/>
<rect x="201" y="60" width="1" height="23" fill="#b0b0b0"/>
<polygon points="91.5,70 99.5,70 95.5,74.5" fill="#4a64c0" shape-rendering="auto"/>
<polygon points="209.5,73.5 217.5,73.5 213.5,69" fill="#4a64c0" shape-rendering="auto"/>
<rect x="0" y="0" width="1691" height="32" fill="#f0f0f0"/>
<rect x="0" y="32" width="1691" height="1" fill="#a0a0a0"/>
<rect x="0" y="33" width="1691" height="1" fill="#696969"/>
<rect x="0" y="34" width="1" height="720" fill="#fff"/>
<rect x="1" y="34" width="4" height="718" fill="#ebebeb"/>
<rect x="5" y="33" width="1" height="719" fill="#a8a8a8"/>
<rect x="6" y="33" width="1" height="719" fill="#6e6e6e"/>
<rect x="9" y="36" width="1637" height="1" fill="#000"/>
<rect x="9" y="36" width="1" height="615" fill="#000"/>
<rect x="1645" y="36" width="1" height="615" fill="#000"/>
<rect x="9" y="650" width="1637" height="1" fill="#000"/>
<rect x="9" y="652" width="1637" height="1" fill="#000"/>
<rect x="9" y="652" width="1" height="77" fill="#000"/>
<rect x="1645" y="652" width="1" height="77" fill="#000"/>
<rect x="9" y="728" width="1637" height="1" fill="#000"/>
<polygon points="1310.5,37 1322.5,37 1316.5,43" fill="#c0c0c0" shape-rendering="auto"/>
<polygon points="12.8,49.6 22.6,49.6 17.7,43.8" fill="#000" shape-rendering="auto"/>
<rect x="0" y="752" width="1691" height="1" fill="#e3e3e3"/>
<rect x="147" y="754" width="1544" height="1" fill="#000"/>
<rect x="5" y="754" width="8" height="1" fill="#000"/>
<rect x="1646" y="43" width="2" height="1" fill="#000"/>
<rect x="1646" y="92" width="2" height="1" fill="#000"/>
<rect x="1646" y="141" width="2" height="1" fill="#000"/>
<rect x="1646" y="190" width="2" height="1" fill="#000"/>
<rect x="1646" y="239" width="2" height="1" fill="#000"/>
<rect x="1646" y="288" width="2" height="1" fill="#000"/>
<rect x="1646" y="337" width="2" height="1" fill="#000"/>
<rect x="1646" y="386" width="2" height="1" fill="#000"/>
<rect x="1646" y="435" width="2" height="1" fill="#000"/>
<rect x="1646" y="484" width="2" height="1" fill="#000"/>
<rect x="1646" y="533" width="2" height="1" fill="#000"/>
<rect x="1646" y="582" width="2" height="1" fill="#000"/>
<rect x="1646" y="631" width="2" height="1" fill="#000"/>
<rect x="1647" y="214" width="44" height="14" fill="#ff4500"/>
<rect x="1647" y="324" width="44" height="14" fill="#ff4500"/>
<rect x="1647" y="452" width="44" height="14" fill="#00ff7f"/>
<rect x="1647" y="470" width="44" height="14" fill="#000"/>
<rect x="1647" y="521" width="44" height="14" fill="#0000ff"/>
<rect x="1647" y="602" width="44" height="14" fill="#0000ff"/>
<rect x="1646" y="484" width="2" height="1" fill="#000"/>
<rect x="1646" y="533" width="2" height="1" fill="#000"/>
<rect x="10" y="670" width="1" height="16" fill="#c0c0c0"/>
<rect x="18" y="673" width="1" height="13" fill="#c0c0c0"/>
<rect x="26" y="675" width="1" height="11" fill="#c0c0c0"/>
<rect x="34" y="675" width="1" height="11" fill="#c0c0c0"/>
<rect x="42" y="677" width="1" height="9" fill="#c0c0c0"/>
<rect x="50" y="681" width="1" height="5" fill="#c0c0c0"/>
<rect x="58" y="685" width="1" height="2" fill="#c0c0c0"/>
<rect x="66" y="685" width="1" height="9" fill="#c0c0c0"/>
<rect x="74" y="685" width="1" height="15" fill="#c0c0c0"/>
<rect x="82" y="685" width="1" height="21" fill="#c0c0c0"/>
<rect x="90" y="685" width="1" height="26" fill="#c0c0c0"/>
<rect x="98" y="685" width="1" height="30" fill="#c0c0c0"/>
<rect x="106" y="685" width="1" height="32" fill="#c0c0c0"/>
<rect x="114" y="685" width="1" height="30" fill="#c0c0c0"/>
<rect x="122" y="685" width="1" height="29" fill="#c0c0c0"/>
<rect x="130" y="685" width="1" height="30" fill="#c0c0c0"/>
<rect x="138" y="685" width="1" height="26" fill="#c0c0c0"/>
<rect x="146" y="685" width="1" height="23" fill="#c0c0c0"/>
<rect x="154" y="685" width="1" height="19" fill="#c0c0c0"/>
<rect x="162" y="685" width="1" height="18" fill="#c0c0c0"/>
<rect x="170" y="685" width="1" height="16" fill="#c0c0c0"/>
<rect x="178" y="685" width="1" height="15" fill="#c0c0c0"/>
<rect x="186" y="685" width="1" height="14" fill="#c0c0c0"/>
<rect x="194" y="685" width="1" height="13" fill="#c0c0c0"/>
<rect x="202" y="685" width="1" height="14" fill="#c0c0c0"/>
<rect x="210" y="685" width="1" height="18" fill="#c0c0c0"/>
<rect x="218" y="685" width="1" height="20" fill="#c0c0c0"/>
<rect x="226" y="685" width="1" height="22" fill="#c0c0c0"/>
<rect x="234" y="685" width="1" height="24" fill="#c0c0c0"/>
<rect x="242" y="685" width="1" height="27" fill="#c0c0c0"/>
<rect x="250" y="685" width="1" height="29" fill="#c0c0c0"/>
<rect x="258" y="685" width="1" height="29" fill="#c0c0c0"/>
<rect x="266" y="685" width="1" height="25" fill="#c0c0c0"/>
<rect x="274" y="685" width="1" height="22" fill="#c0c0c0"/>
<rect x="282" y="685" width="1" height="19" fill="#c0c0c0"/>
<rect x="290" y="685" width="1" height="18" fill="#c0c0c0"/>
<rect x="298" y="685" width="1" height="16" fill="#c0c0c0"/>
<rect x="306" y="685" width="1" height="15" fill="#c0c0c0"/>
<rect x="314" y="685" width="1" height="14" fill="#c0c0c0"/>
<rect x="322" y="685" width="1" height="12" fill="#c0c0c0"/>
<rect x="330" y="685" width="1" height="7" fill="#c0c0c0"/>
<rect x="338" y="685" width="1" height="2" fill="#c0c0c0"/>
<rect x="346" y="684" width="1" height="2" fill="#c0c0c0"/>
<rect x="354" y="682" width="1" height="4" fill="#c0c0c0"/>
<rect x="362" y="680" width="1" height="6" fill="#c0c0c0"/>
<rect x="370" y="679" width="1" height="7" fill="#c0c0c0"/>
<rect x="378" y="679" width="1" height="7" fill="#c0c0c0"/>
<rect x="386" y="680" width="1" height="6" fill="#c0c0c0"/>
<rect x="394" y="683" width="1" height="3" fill="#c0c0c0"/>
<rect x="402" y="684" width="1" height="2" fill="#c0c0c0"/>
<rect x="410" y="685" width="1" height="1" fill="#c0c0c0"/>
<rect x="418" y="685" width="1" height="1" fill="#c0c0c0"/>
<rect x="426" y="685" width="1" height="2" fill="#c0c0c0"/>
<rect x="434" y="685" width="1" height="1" fill="#c0c0c0"/>
<rect x="442" y="685" width="1" height="2" fill="#c0c0c0"/>
<rect x="450" y="685" width="1" height="3" fill="#c0c0c0"/>
<rect x="458" y="685" width="1" height="5" fill="#c0c0c0"/>
<rect x="466" y="685" width="1" height="8" fill="#c0c0c0"/>
<rect x="474" y="685" width="1" height="9" fill="#c0c0c0"/>
<rect x="482" y="685" width="1" height="10" fill="#c0c0c0"/>
<rect x="490" y="685" width="1" height="12" fill="#c0c0c0"/>
<rect x="498" y="685" width="1" height="14" fill="#c0c0c0"/>
<rect x="506" y="685" width="1" height="15" fill="#c0c0c0"/>
<rect x="514" y="685" width="1" height="17" fill="#c0c0c0"/>
<rect x="522" y="685" width="1" height="18" fill="#c0c0c0"/>
<rect x="530" y="685" width="1" height="20" fill="#c0c0c0"/>
<rect x="538" y="685" width="1" height="20" fill="#c0c0c0"/>
<rect x="546" y="685" width="1" height="20" fill="#c0c0c0"/>
<rect x="554" y="685" width="1" height="19" fill="#c0c0c0"/>
<rect x="562" y="685" width="1" height="19" fill="#c0c0c0"/>
<rect x="570" y="685" width="1" height="19" fill="#c0c0c0"/>
<rect x="578" y="685" width="1" height="20" fill="#c0c0c0"/>
<rect x="586" y="685" width="1" height="18" fill="#c0c0c0"/>
<rect x="594" y="685" width="1" height="15" fill="#c0c0c0"/>
<rect x="602" y="685" width="1" height="11" fill="#c0c0c0"/>
<rect x="610" y="685" width="1" height="7" fill="#c0c0c0"/>
<rect x="618" y="685" width="1" height="3" fill="#c0c0c0"/>
<rect x="626" y="685" width="1" height="1" fill="#c0c0c0"/>
<rect x="634" y="682" width="1" height="4" fill="#c0c0c0"/>
<rect x="642" y="675" width="1" height="11" fill="#c0c0c0"/>
<rect x="650" y="672" width="1" height="14" fill="#c0c0c0"/>
<rect x="658" y="669" width="1" height="17" fill="#c0c0c0"/>
<rect x="666" y="665" width="1" height="21" fill="#c0c0c0"/>
<rect x="674" y="662" width="1" height="24" fill="#c0c0c0"/>
<rect x="682" y="661" width="1" height="25" fill="#c0c0c0"/>
<rect x="690" y="661" width="1" height="25" fill="#c0c0c0"/>
<rect x="698" y="659" width="1" height="27" fill="#c0c0c0"/>
<rect x="706" y="658" width="1" height="28" fill="#c0c0c0"/>
<rect x="714" y="662" width="1" height="24" fill="#c0c0c0"/>
<rect x="722" y="669" width="1" height="17" fill="#c0c0c0"/>
<rect x="730" y="673" width="1" height="13" fill="#c0c0c0"/>
<rect x="738" y="678" width="1" height="8" fill="#c0c0c0"/>
<rect x="746" y="681" width="1" height="5" fill="#c0c0c0"/>
<rect x="754" y="685" width="1" height="1" fill="#c0c0c0"/>
<rect x="762" y="685" width="1" height="6" fill="#c0c0c0"/>
<rect x="770" y="685" width="1" height="15" fill="#c0c0c0"/>
<rect x="778" y="685" width="1" height="21" fill="#c0c0c0"/>
<rect x="786" y="685" width="1" height="24" fill="#c0c0c0"/>
<rect x="794" y="685" width="1" height="26" fill="#c0c0c0"/>
<rect x="802" y="685" width="1" height="29" fill="#c0c0c0"/>
<rect x="810" y="685" width="1" height="31" fill="#c0c0c0"/>
<rect x="818" y="685" width="1" height="33" fill="#c0c0c0"/>
<rect x="826" y="685" width="1" height="34" fill="#c0c0c0"/>
<rect x="834" y="685" width="1" height="35" fill="#c0c0c0"/>
<rect x="842" y="685" width="1" height="36" fill="#c0c0c0"/>
<rect x="850" y="685" width="1" height="38" fill="#c0c0c0"/>
<rect x="858" y="685" width="1" height="39" fill="#c0c0c0"/>
<rect x="866" y="685" width="1" height="37" fill="#c0c0c0"/>
<rect x="874" y="685" width="1" height="28" fill="#c0c0c0"/>
<rect x="882" y="685" width="1" height="19" fill="#c0c0c0"/>
<rect x="890" y="685" width="1" height="14" fill="#c0c0c0"/>
<rect x="898" y="685" width="1" height="13" fill="#c0c0c0"/>
<rect x="906" y="685" width="1" height="9" fill="#c0c0c0"/>
<rect x="914" y="685" width="1" height="8" fill="#c0c0c0"/>
<rect x="922" y="685" width="1" height="10" fill="#c0c0c0"/>
<rect x="930" y="685" width="1" height="9" fill="#c0c0c0"/>
<rect x="938" y="685" width="1" height="8" fill="#c0c0c0"/>
<rect x="946" y="685" width="1" height="9" fill="#c0c0c0"/>
<rect x="954" y="685" width="1" height="11" fill="#c0c0c0"/>
<rect x="962" y="685" width="1" height="15" fill="#c0c0c0"/>
<rect x="970" y="685" width="1" height="16" fill="#c0c0c0"/>
<rect x="978" y="685" width="1" height="16" fill="#c0c0c0"/>
<rect x="986" y="685" width="1" height="15" fill="#c0c0c0"/>
<rect x="994" y="685" width="1" height="12" fill="#c0c0c0"/>
<rect x="1002" y="685" width="1" height="9" fill="#c0c0c0"/>
<rect x="1010" y="685" width="1" height="7" fill="#c0c0c0"/>
<rect x="1018" y="685" width="1" height="1" fill="#c0c0c0"/>
<rect x="1026" y="682" width="1" height="4" fill="#c0c0c0"/>
<rect x="1034" y="679" width="1" height="7" fill="#c0c0c0"/>
<rect x="1042" y="677" width="1" height="9" fill="#c0c0c0"/>
<rect x="1050" y="677" width="1" height="9" fill="#c0c0c0"/>
<rect x="1058" y="677" width="1" height="9" fill="#c0c0c0"/>
<rect x="1066" y="675" width="1" height="11" fill="#c0c0c0"/>
<rect x="1074" y="676" width="1" height="10" fill="#c0c0c0"/>
<rect x="1082" y="676" width="1" height="10" fill="#c0c0c0"/>
<rect x="1090" y="677" width="1" height="9" fill="#c0c0c0"/>
<rect x="1098" y="680" width="1" height="6" fill="#c0c0c0"/>
<rect x="1106" y="682" width="1" height="4" fill="#c0c0c0"/>
<rect x="1114" y="684" width="1" height="2" fill="#c0c0c0"/>
<rect x="1122" y="684" width="1" height="2" fill="#c0c0c0"/>
<rect x="1130" y="685" width="1" height="1" fill="#c0c0c0"/>
<rect x="1138" y="683" width="1" height="3" fill="#c0c0c0"/>
<rect x="1146" y="683" width="1" height="3" fill="#c0c0c0"/>
<rect x="1154" y="683" width="1" height="3" fill="#c0c0c0"/>
<rect x="1162" y="682" width="1" height="4" fill="#c0c0c0"/>
<rect x="1170" y="682" width="1" height="4" fill="#c0c0c0"/>
<rect x="1178" y="680" width="1" height="6" fill="#c0c0c0"/>
<rect x="1186" y="678" width="1" height="8" fill="#c0c0c0"/>
<rect x="1194" y="677" width="1" height="9" fill="#c0c0c0"/>
<rect x="1202" y="675" width="1" height="11" fill="#c0c0c0"/>
<rect x="1210" y="676" width="1" height="10" fill="#c0c0c0"/>
<rect x="1218" y="678" width="1" height="8" fill="#c0c0c0"/>
<rect x="1226" y="680" width="1" height="6" fill="#c0c0c0"/>
<rect x="1234" y="681" width="1" height="5" fill="#c0c0c0"/>
<rect x="1242" y="683" width="1" height="3" fill="#c0c0c0"/>
<rect x="1250" y="684" width="1" height="2" fill="#c0c0c0"/>
<rect x="1258" y="685" width="1" height="1" fill="#c0c0c0"/>
<rect x="1266" y="685" width="1" height="5" fill="#c0c0c0"/>
<rect x="1274" y="685" width="1" height="7" fill="#c0c0c0"/>
<rect x="1282" y="685" width="1" height="10" fill="#c0c0c0"/>
<rect x="1290" y="685" width="1" height="12" fill="#c0c0c0"/>
<rect x="1298" y="685" width="1" height="13" fill="#c0c0c0"/>
<rect x="1306" y="685" width="1" height="13" fill="#c0c0c0"/>
<rect x="1314" y="685" width="1" height="12" fill="#c0c0c0"/>
<path d="M10 670.5h3M16 670.5h3M22 670.5h3M28 670.5h3M34 670.5h3M40 670.5h3M46 670.5h2M48 671.5h1M52 672.5h2M54 673.5h1M58 674.5h2M60 675.5h1M64 677.5h3M70 679.5h1M71 680.5h2M76 682.5h1M77 683.5h2M82 685.5h1M83 686.5h2M88 688.5h1M89 689.5h1M90 690.5h1M94 692.5h2M96 693.5h1M100 695.5h1M101 696.5h2M106 699.5h2M108 700.5h1M112 702.5h2M114 703.5h1M118 705.5h2M120 706.5h1M124 708.5h2M126 709.5h1M130 710.5h3M136 712.5h3M142 712.5h3M148 712.5h3M154 712.5h3M160 712.5h2M162 711.5h1M166 711.5h2M168 710.5h1M172 710.5h2M174 709.5h1M178 709.5h1M179 708.5h2M184 707.5h3M190 706.5h2M192 705.5h1M196 705.5h1M197 704.5h2M202 703.5h3M208 703.5h3M214 702.5h3M220 702.5h3M226 702.5h3M232 703.5h3M238 703.5h3M244 704.5h3M250 705.5h3M256 706.5h1M257 707.5h2M262 708.5h1M263 709.5h2M268 709.5h3M274 709.5h3M280 710.5h3M286 710.5h3M292 709.5h3M298 709.5h3M304 709.5h1M305 708.5h2M310 708.5h1M311 707.5h2M316 706.5h2M318 705.5h1M322 704.5h3M328 703.5h1M329 702.5h2M334 701.5h2M336 700.5h1M340 699.5h3M346 698.5h1M347 697.5h2M352 695.5h1M353 694.5h2M358 693.5h1M359 692.5h2M364 691.5h3M370 690.5h1M371 689.5h2M376 687.5h3M382 685.5h3M388 684.5h2M390 683.5h1M394 682.5h3M400 682.5h3M406 682.5h3M412 682.5h3M418 682.5h3M424 682.5h3M430 682.5h3M436 682.5h3M442 683.5h3M448 685.5h2M450 686.5h1M454 686.5h3M460 687.5h3M466 687.5h2M468 688.5h1M472 688.5h3M478 689.5h3M484 690.5h3M490 691.5h3M496 692.5h3M502 693.5h3M508 694.5h3M514 695.5h3M520 697.5h3M526 698.5h1M527 699.5h2M532 699.5h2M534 700.5h1M538 700.5h3M544 701.5h3M550 702.5h3M556 703.5h3M562 703.5h3M568 703.5h3M574 703.5h1M575 704.5h2M580 704.5h3M586 704.5h3M592 704.5h3M598 704.5h2M600 703.5h1M604 703.5h2M606 702.5h1M610 702.5h1M611 701.5h2M616 700.5h3M622 699.5h1M623 698.5h2M628 697.5h3M634 695.5h3M640 693.5h2M642 692.5h1M646 690.5h2M648 689.5h1M652 687.5h2M654 686.5h1M658 685.5h1M659 684.5h2M664 682.5h1M665 681.5h1M666 680.5h1M670 678.5h2M672 677.5h1M676 676.5h1M677 675.5h2M682 673.5h2M684 672.5h1M688 670.5h2M690 669.5h1M694 668.5h1M695 667.5h2M700 666.5h3M706 664.5h3M712 663.5h3M718 663.5h3M724 663.5h3M730 663.5h3M736 664.5h3M742 665.5h1M743 666.5h2M748 667.5h3M754 668.5h1M755 669.5h2M760 671.5h2M762 672.5h1M766 675.5h2M768 676.5h1M772 679.5h2M774 680.5h1M778 682.5h2M780 683.5h1M784 685.5h1M785 686.5h1M786 687.5h1M790 689.5h1M791 690.5h2M796 693.5h1M797 694.5h2M802 697.5h2M804 698.5h1M808 700.5h2M810 701.5h1M814 704.5h2M816 705.5h1M820 707.5h1M821 708.5h2M826 709.5h1M827 710.5h2M832 712.5h3M838 714.5h2M840 715.5h1M844 716.5h3M850 717.5h2M852 718.5h1M856 719.5h3M862 720.5h3M868 720.5h3M874 720.5h3M880 719.5h2M882 718.5h1M886 718.5h1M887 717.5h2M892 716.5h3M898 715.5h1M899 714.5h2M904 712.5h2M906 711.5h1M910 710.5h2M912 709.5h1M916 708.5h3M922 705.5h2M924 704.5h1M928 702.5h2M930 701.5h1M934 700.5h2M936 699.5h1M940 698.5h3M946 697.5h3M952 696.5h3M958 696.5h3M964 696.5h3M970 696.5h3M976 696.5h3M982 697.5h3M988 698.5h3M994 698.5h3M1000 698.5h3M1006 698.5h3M1012 698.5h3M1018 698.5h1M1019 697.5h2M1024 696.5h2M1026 695.5h1M1030 694.5h2M1032 693.5h1M1036 692.5h2M1038 691.5h1M1042 690.5h2M1044 689.5h1M1048 688.5h1M1049 687.5h2M1054 686.5h1M1055 685.5h2M1060 684.5h3M1066 683.5h2M1068 682.5h1M1072 681.5h3M1078 680.5h2M1080 679.5h1M1084 677.5h3M1090 677.5h3M1096 677.5h3M1102 677.5h3M1108 677.5h3M1114 677.5h3M1120 678.5h3M1126 679.5h3M1132 680.5h3M1138 680.5h3M1144 680.5h3M1150 681.5h3M1156 681.5h1M1157 682.5h2M1162 682.5h3M1168 682.5h3M1174 682.5h3M1180 682.5h3M1186 681.5h3M1192 681.5h1M1193 680.5h2M1198 680.5h3M1204 679.5h3M1210 679.5h3M1216 679.5h3M1222 679.5h3M1228 678.5h3M1234 677.5h3M1240 678.5h3M1246 678.5h3M1252 679.5h3M1258 679.5h3M1264 681.5h3M1270 682.5h2M1272 683.5h1M1276 683.5h1M1277 684.5h2M1282 685.5h2M1284 686.5h1M1288 687.5h3M1294 688.5h2M1296 689.5h1M1300 690.5h2M1302 691.5h1M1306 691.5h3M1312 692.5h1M1313 693.5h2" fill="none" stroke="#ff0000" stroke-width="1"/>
<rect x="1646" y="653" width="2" height="1" fill="#000"/>
<rect x="1646" y="685" width="2" height="1" fill="#000"/>
<rect x="1646" y="728" width="2" height="1" fill="#000"/>
<rect x="10" y="729" width="1" height="3" fill="#000"/>
<rect x="106" y="729" width="1" height="3" fill="#000"/>
<rect x="202" y="729" width="1" height="3" fill="#000"/>
<rect x="298" y="729" width="1" height="3" fill="#000"/>
<rect x="394" y="729" width="1" height="3" fill="#000"/>
<rect x="490" y="729" width="1" height="3" fill="#000"/>
<rect x="586" y="729" width="1" height="3" fill="#000"/>
<rect x="682" y="729" width="1" height="3" fill="#000"/>
<rect x="778" y="729" width="1" height="3" fill="#000"/>
<rect x="874" y="729" width="1" height="3" fill="#000"/>
<rect x="970" y="729" width="1" height="3" fill="#000"/>
<rect x="1066" y="729" width="1" height="3" fill="#000"/>
<rect x="1162" y="729" width="1" height="3" fill="#000"/>
<rect x="1258" y="729" width="1" height="3" fill="#000"/>
<rect x="6" y="7" width="1" height="2" fill="#808080"/>
<rect x="8" y="7" width="1" height="2" fill="#808080"/>
<rect x="10" y="7" width="1" height="2" fill="#808080"/>
<rect x="12" y="7" width="1" height="2" fill="#808080"/>
<rect x="14" y="7" width="1" height="2" fill="#808080"/>
<rect x="16" y="7" width="1" height="2" fill="#808080"/>
<rect x="18" y="7" width="1" height="2" fill="#808080"/>
<rect x="20" y="7" width="1" height="2" fill="#808080"/>
<rect x="22" y="7" width="1" height="2" fill="#808080"/>
<rect x="6" y="11" width="1" height="2" fill="#808080"/>
<rect x="8" y="11" width="1" height="2" fill="#808080"/>
<rect x="10" y="11" width="1" height="2" fill="#808080"/>
<rect x="12" y="11" width="1" height="2" fill="#808080"/>
<rect x="14" y="11" width="1" height="2" fill="#808080"/>
<rect x="16" y="11" width="1" height="2" fill="#808080"/>
<rect x="18" y="11" width="1" height="2" fill="#808080"/>
<rect x="20" y="11" width="1" height="2" fill="#808080"/>
<rect x="22" y="11" width="1" height="2" fill="#808080"/>
<rect x="6" y="16" width="1" height="2" fill="#808080"/>
<rect x="8" y="16" width="1" height="2" fill="#808080"/>
<rect x="10" y="16" width="1" height="2" fill="#808080"/>
<rect x="12" y="16" width="1" height="2" fill="#808080"/>
<rect x="14" y="16" width="1" height="2" fill="#808080"/>
<rect x="16" y="16" width="1" height="2" fill="#808080"/>
<rect x="18" y="16" width="1" height="2" fill="#808080"/>
<rect x="20" y="16" width="1" height="2" fill="#808080"/>
<rect x="22" y="16" width="1" height="2" fill="#808080"/>
<rect x="6" y="21" width="1" height="2" fill="#808080"/>
<rect x="8" y="21" width="1" height="2" fill="#808080"/>
<rect x="10" y="21" width="1" height="2" fill="#808080"/>
<rect x="12" y="21" width="1" height="2" fill="#808080"/>
<rect x="14" y="21" width="1" height="2" fill="#808080"/>
<rect x="16" y="21" width="1" height="2" fill="#808080"/>
<rect x="75" y="8" width="1" height="1" fill="#707070"/>
<rect x="75" y="24" width="1" height="1" fill="#707070"/>
<rect x="77" y="8" width="1" height="1" fill="#707070"/>
<rect x="77" y="24" width="1" height="1" fill="#707070"/>
<rect x="79" y="8" width="1" height="1" fill="#707070"/>
<rect x="79" y="24" width="1" height="1" fill="#707070"/>
<rect x="81" y="8" width="1" height="1" fill="#707070"/>
<rect x="81" y="24" width="1" height="1" fill="#707070"/>
<rect x="83" y="8" width="1" height="1" fill="#707070"/>
<rect x="83" y="24" width="1" height="1" fill="#707070"/>
<rect x="85" y="8" width="1" height="1" fill="#707070"/>
<rect x="85" y="24" width="1" height="1" fill="#707070"/>
<rect x="87" y="8" width="1" height="1" fill="#707070"/>
<rect x="87" y="24" width="1" height="1" fill="#707070"/>
<rect x="89" y="8" width="1" height="1" fill="#707070"/>
<rect x="89" y="24" width="1" height="1" fill="#707070"/>
<rect x="75" y="8" width="1" height="1" fill="#707070"/>
<rect x="89" y="8" width="1" height="1" fill="#707070"/>
<rect x="75" y="10" width="1" height="1" fill="#707070"/>
<rect x="89" y="10" width="1" height="1" fill="#707070"/>
<rect x="75" y="12" width="1" height="1" fill="#707070"/>
<rect x="89" y="12" width="1" height="1" fill="#707070"/>
<rect x="75" y="14" width="1" height="1" fill="#707070"/>
<rect x="89" y="14" width="1" height="1" fill="#707070"/>
<rect x="75" y="16" width="1" height="1" fill="#707070"/>
<rect x="89" y="16" width="1" height="1" fill="#707070"/>
<rect x="75" y="18" width="1" height="1" fill="#707070"/>
<rect x="89" y="18" width="1" height="1" fill="#707070"/>
<rect x="75" y="20" width="1" height="1" fill="#707070"/>
<rect x="89" y="20" width="1" height="1" fill="#707070"/>
<rect x="75" y="22" width="1" height="1" fill="#707070"/>
<rect x="89" y="22" width="1" height="1" fill="#707070"/>
<rect x="75" y="24" width="1" height="1" fill="#707070"/>
<rect x="89" y="24" width="1" height="1" fill="#707070"/>
<rect x="75" y="8" width="3" height="2" fill="#606060"/>
<rect x="77" y="12" width="11" height="3" fill="#787878"/>
<rect x="80" y="15" width="4" height="8" fill="#787878"/>
<g shape-rendering="auto"><polygon points="112,8.5 116.5,13 112,15 107.5,13" fill="#606060"/><polygon points="116.5,20 125.5,20 121,25.5" fill="#606060"/><polygon points="118,19.5 124,19.5 121,17.5" fill="#606060"/><polyline points="110.5,17.5 113.5,20.5 119,14.5" fill="none" stroke="#707070" stroke-width="1.6"/><polygon points="130.5,15.5 138.5,15.5 134.5,19.8" fill="#000"/></g>
<rect x="146" y="0" width="1" height="32" fill="#a0a0a0"/>
<rect x="147" y="0" width="1" height="32" fill="#fff"/>
<rect x="150" y="3" width="3" height="1" fill="#909090"/>
<rect x="150" y="5" width="3" height="1" fill="#909090"/>
<rect x="150" y="7" width="3" height="1" fill="#909090"/>
<rect x="150" y="9" width="3" height="1" fill="#909090"/>
<rect x="150" y="11" width="3" height="1" fill="#909090"/>
<rect x="150" y="13" width="3" height="1" fill="#909090"/>
<rect x="150" y="15" width="3" height="1" fill="#909090"/>
<rect x="150" y="17" width="3" height="1" fill="#909090"/>
<rect x="150" y="19" width="3" height="1" fill="#909090"/>
<rect x="150" y="21" width="3" height="1" fill="#909090"/>
<rect x="150" y="23" width="3" height="1" fill="#909090"/>
<rect x="150" y="25" width="3" height="1" fill="#909090"/>
<rect x="150" y="27" width="3" height="1" fill="#909090"/>
<rect x="150" y="29" width="3" height="1" fill="#909090"/>
<rect x="461" y="0" width="1" height="32" fill="#a0a0a0"/>
<rect x="462" y="0" width="1" height="32" fill="#fff"/>
<rect x="326" y="1" width="31" height="29" fill="#f8f8f8"/>
<rect x="326" y="1" width="31" height="1" fill="#a0a0a0"/>
<rect x="326" y="1" width="1" height="29" fill="#a0a0a0"/>
<rect x="356" y="1" width="1" height="29" fill="#fff"/>
<rect x="326" y="29" width="31" height="1" fill="#fff"/>
</svg>
<div class="t " style="left:1652.00px;top:38.34px;font-size:12px;line-height:12px;color:#000;letter-spacing:0.433px;">3572.5</div>
<div class="t " style="left:1652.00px;top:87.34px;font-size:12px;line-height:12px;color:#000;letter-spacing:0.433px;">3527.0</div>
<div class="t " style="left:1652.00px;top:136.34px;font-size:12px;line-height:12px;color:#000;letter-spacing:0.433px;">3481.5</div>
<div class="t " style="left:1652.00px;top:185.34px;font-size:12px;line-height:12px;color:#000;letter-spacing:0.433px;">3436.5</div>
<div class="t " style="left:1652.00px;top:234.34px;font-size:12px;line-height:12px;color:#000;letter-spacing:0.433px;">3391.0</div>
<div class="t " style="left:1652.00px;top:283.34px;font-size:12px;line-height:12px;color:#000;letter-spacing:0.433px;">3345.5</div>
<div class="t " style="left:1652.00px;top:332.34px;font-size:12px;line-height:12px;color:#000;letter-spacing:0.433px;">3300.0</div>
<div class="t " style="left:1652.00px;top:381.34px;font-size:12px;line-height:12px;color:#000;letter-spacing:0.433px;">3254.5</div>
<div class="t " style="left:1652.00px;top:430.34px;font-size:12px;line-height:12px;color:#000;letter-spacing:0.433px;">3209.0</div>
<div class="t " style="left:1652.00px;top:479.34px;font-size:12px;line-height:12px;color:#000;letter-spacing:0.433px;">3163.5</div>
<div class="t " style="left:1652.00px;top:528.34px;font-size:12px;line-height:12px;color:#000;letter-spacing:0.582px;">3118.0</div>
<div class="t " style="left:1652.00px;top:577.34px;font-size:12px;line-height:12px;color:#000;letter-spacing:0.433px;">3072.5</div>
<div class="t " style="left:1652.00px;top:626.34px;font-size:12px;line-height:12px;color:#000;letter-spacing:0.433px;">3027.0</div>
<div class="t " style="left:1652.00px;top:216.34px;font-size:12px;line-height:12px;color:#fff;letter-spacing:0.433px;">3408.4</div>
<div class="t " style="left:1652.00px;top:326.34px;font-size:12px;line-height:12px;color:#fff;letter-spacing:0.433px;">3306.7</div>
<div class="t " style="left:1652.00px;top:454.34px;font-size:12px;line-height:12px;color:#fff;letter-spacing:0.433px;">3187.6</div>
<div class="t " style="left:1652.00px;top:472.34px;font-size:12px;line-height:12px;color:#fff;letter-spacing:0.433px;">3169.8</div>
<div class="t " style="left:1652.00px;top:523.34px;font-size:12px;line-height:12px;color:#fff;letter-spacing:0.433px;">3124.0</div>
<div class="t " style="left:1652.00px;top:604.34px;font-size:12px;line-height:12px;color:#fff;letter-spacing:0.433px;">3048.9</div>
<div class="t " style="left:1649.50px;top:656.34px;font-size:12px;line-height:12px;color:#000;letter-spacing:0.395px;">51.14</div>
<div class="t " style="left:1649.50px;top:680.34px;font-size:12px;line-height:12px;color:#000;letter-spacing:0.537px;">0.00</div>
<div class="t " style="left:1649.50px;top:715.34px;font-size:12px;line-height:12px;color:#000;letter-spacing:0.530px;">-68.3</div>
<div class="t " style="left:14.20px;top:658.34px;font-size:12px;line-height:12px;color:#000;letter-spacing:0.257px;">MACD(12,26,9) -19.21 -12.67</div>
<div class="t " style="left:8.70px;top:734.14px;font-size:12px;line-height:12px;color:#000;letter-spacing:0.205px;">30 Jul 2018</div>
<div class="t " style="left:104.70px;top:734.14px;font-size:12px;line-height:12px;color:#000;letter-spacing:0.449px;">7 Aug 01:30</div>
<div class="t " style="left:200.70px;top:734.14px;font-size:12px;line-height:12px;color:#000;letter-spacing:0.456px;">15 Aug 01:30</div>
<div class="t " style="left:296.70px;top:734.14px;font-size:12px;line-height:12px;color:#000;letter-spacing:0.456px;">23 Aug 01:30</div>
<div class="t " style="left:392.70px;top:734.14px;font-size:12px;line-height:12px;color:#000;letter-spacing:0.456px;">31 Aug 01:30</div>
<div class="t " style="left:488.70px;top:734.14px;font-size:12px;line-height:12px;color:#000;letter-spacing:0.401px;">10 Sep 01:30</div>
<div class="t " style="left:584.70px;top:734.14px;font-size:12px;line-height:12px;color:#000;letter-spacing:0.401px;">18 Sep 01:30</div>
<div class="t " style="left:680.70px;top:734.14px;font-size:12px;line-height:12px;color:#000;letter-spacing:0.401px;">27 Sep 01:30</div>
<div class="t " style="left:776.70px;top:734.14px;font-size:12px;line-height:12px;color:#000;letter-spacing:0.624px;">12 Oct 01:30</div>
<div class="t " style="left:872.70px;top:734.14px;font-size:12px;line-height:12px;color:#000;letter-spacing:0.624px;">22 Oct 01:30</div>
<div class="t " style="left:968.70px;top:734.14px;font-size:12px;line-height:12px;color:#000;letter-spacing:0.624px;">30 Oct 01:30</div>
<div class="t " style="left:1064.70px;top:734.14px;font-size:12px;line-height:12px;color:#000;letter-spacing:0.390px;">7 Nov 01:30</div>
<div class="t " style="left:1160.70px;top:734.14px;font-size:12px;line-height:12px;color:#000;letter-spacing:0.402px;">15 Nov 01:30</div>
<div class="t " style="left:1256.70px;top:734.14px;font-size:12px;line-height:12px;color:#000;letter-spacing:0.402px;">23 Nov 01:30</div>
<div class="t " style="left:28.00px;top:41.14px;font-size:12px;line-height:12px;color:#000;letter-spacing:-0.085px;">CHINA300-,H4</div>
<div class="t " style="left:114.50px;top:41.14px;font-size:12px;line-height:12px;color:#000;letter-spacing:0.383px;">3173.9</div>
<div class="t " style="left:158.00px;top:41.14px;font-size:12px;line-height:12px;color:#000;letter-spacing:0.383px;">3178.0</div>
<div class="t " style="left:201.00px;top:41.14px;font-size:12px;line-height:12px;color:#000;letter-spacing:0.383px;">3159.6</div>
<div class="t " style="left:244.30px;top:41.14px;font-size:12px;line-height:12px;color:#000;letter-spacing:0.383px;">3169.8</div>
<div class="t " style="left:29.80px;top:64.93px;font-size:14.5px;line-height:14.5px;color:#ffecec;letter-spacing:-0.618px;">SELL</div>
<div class="t " style="left:246.80px;top:64.93px;font-size:14.5px;line-height:14.5px;color:#ffecec;letter-spacing:-0.272px;">BUY</div>
<div class="t " style="left:167.50px;top:63.93px;font-size:14.5px;line-height:14.5px;color:#000;letter-spacing:0.645px;">1.00</div>
<div class="t " style="left:43.30px;top:111.10px;font-size:15px;line-height:15px;color:#fff;font-weight:bold;letter-spacing:0.609px;">3168</div>
<div class="t " style="left:185.30px;top:111.10px;font-size:15px;line-height:15px;color:#fff;font-weight:bold;letter-spacing:0.609px;">3173</div>
<div class="t " style="left:81.60px;top:88.02px;font-size:42.5px;line-height:42.5px;color:#fff;">.</div>
<div class="t " style="left:92.60px;top:88.02px;font-size:42.5px;line-height:42.5px;color:#fff;transform:scaleX(.86);transform-origin:0 0;">3</div>
<div class="t " style="left:224.00px;top:88.02px;font-size:42.5px;line-height:42.5px;color:#fff;">.</div>
<div class="t " style="left:234.30px;top:88.02px;font-size:42.5px;line-height:42.5px;color:#fff;transform:scaleX(.95);transform-origin:0 0;">9</div>
<div class="t" style="left:1401.6px;top:402.4px;font-size:32.6px;line-height:40px;color:#ff0000;font-family:'Liberation Sans','Noto Serif CJK SC',serif;font-weight:300;letter-spacing:1.2px"><span style="position:relative;top:0.6px;font-size:31.8px;letter-spacing:2px">多空转折点</span><span style="font-weight:400;letter-spacing:-0.3px;margin-left:0.8px">3187</span></div>
<div class="t " style="left:17.60px;top:19.36px;font-size:9.5px;line-height:9.5px;color:#5a5a5a;font-weight:bold;">F</div>
<div class="t " style="left:42.50px;top:8.83px;font-size:16.5px;line-height:16.5px;color:#5a5a5a;font-weight:bold;">A</div>
<div class="t " style="left:162.70px;top:11.34px;font-size:12px;line-height:12px;color:#505050;letter-spacing:0.366px;">M1</div>
<div class="t " style="left:197.00px;top:11.34px;font-size:12px;line-height:12px;color:#505050;letter-spacing:0.016px;">M5</div>
<div class="t " style="left:228.60px;top:11.34px;font-size:12px;line-height:12px;color:#505050;letter-spacing:-0.014px;">M15</div>
<div class="t " style="left:262.70px;top:11.34px;font-size:12px;line-height:12px;color:#505050;letter-spacing:-0.114px;">M30</div>
<div class="t " style="left:300.50px;top:11.34px;font-size:12px;line-height:12px;color:#505050;letter-spacing:0.030px;">H1</div>
<div class="t " style="left:332.70px;top:11.34px;font-size:12px;line-height:12px;color:#505050;letter-spacing:0.930px;">H4</div>
<div class="t " style="left:368.50px;top:11.34px;font-size:12px;line-height:12px;color:#505050;letter-spacing:0.180px;">D1</div>
<div class="t " style="left:401.10px;top:11.34px;font-size:12px;line-height:12px;color:#505050;letter-spacing:0.650px;">W1</div>
<div class="t " style="left:433.70px;top:11.34px;font-size:12px;line-height:12px;color:#505050;letter-spacing:0.569px;">MN</div>
</div></body></html>
